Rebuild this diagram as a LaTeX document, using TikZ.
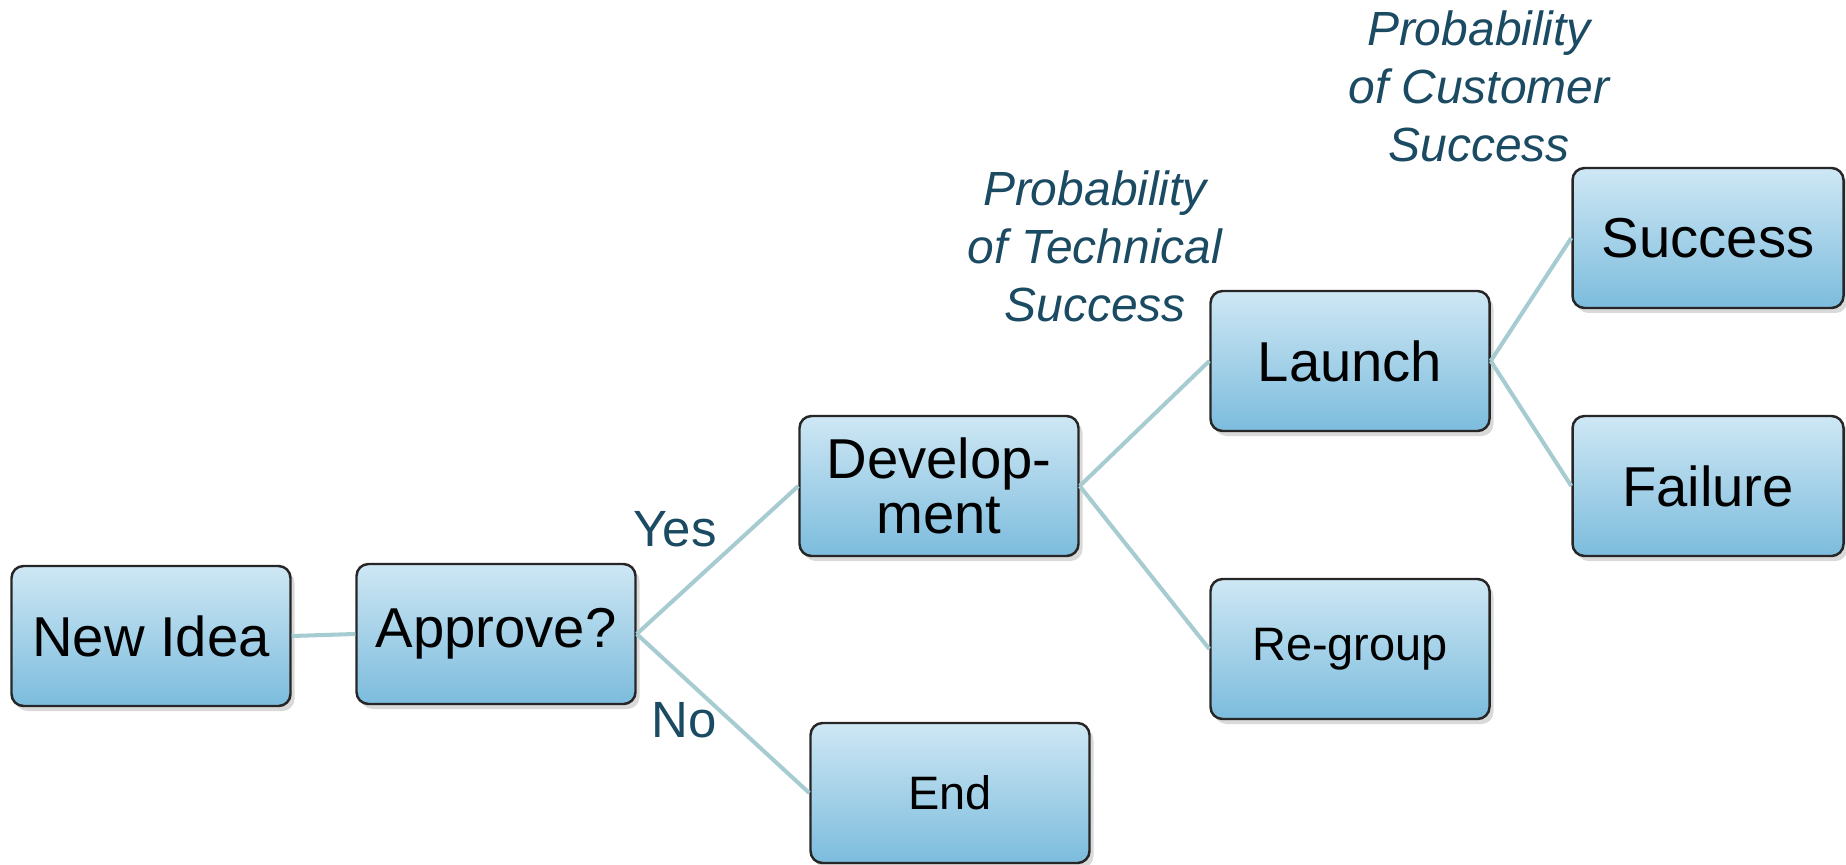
\documentclass[tikz,border=0pt]{standalone}
\usepackage{fontspec}
\setmainfont{Liberation Sans}
\usetikzlibrary{shadows}

\definecolor{boxtop}{RGB}{206,231,244}
\definecolor{boxbot}{RGB}{124,188,221}
\definecolor{branchcol}{RGB}{166,204,210}
\definecolor{labelblue}{RGB}{27,74,99}

\begin{document}
\begin{tikzpicture}[
  stage/.style={rectangle, rounded corners=0.24cm, draw=black!85, line width=1.4pt,
                top color=boxtop, bottom color=boxbot, minimum width=5.58cm,
                minimum height=2.8cm, inner sep=0pt, align=center,
                font=\fontsize{32}{31}\selectfont,
                drop shadow={shadow xshift=0.08cm, shadow yshift=-0.1cm, opacity=0.3}},
  small/.style={font=\fontsize{26.7}{30}\selectfont},
  branch/.style={draw=branchcol, line width=2.3pt},
  answer/.style={text=labelblue, font=\fontsize{29}{33}\selectfont},
  prob/.style={text=labelblue, align=center, font=\itshape\fontsize{27.3}{33}\selectfont},
]
\useasboundingbox (0,0) rectangle (36.92,17.28);

% --- Decision boxes
\node[stage] (newidea) at (3.02, 4.56) {New Idea};
\node[stage] (approve) at (9.92, 4.60) {Approve?};
\node[stage] (dev) at (18.78, 7.56) {Develop-\\ment};
\node[stage, small] (theend) at (19.00, 1.42) {End};
\node[stage] (launch) at (27.00, 10.06) {Launch};
\node[stage, small] (regroup) at (27.00, 4.30) {Re-group};
\node[stage, minimum width=5.42cm] (success) at (34.16, 12.52) {Success};
\node[stage, minimum width=5.42cm] (failure) at (34.16, 7.56) {Failure};

% --- Branches
\draw[branch] (newidea.east) -- (approve.west);
\draw[branch] (approve.east) -- (dev.west);
\draw[branch] (approve.east) -- (theend.west);
\draw[branch] (dev.east) -- (launch.west);
\draw[branch] (dev.east) -- (regroup.west);
\draw[branch] (launch.east) -- (success.west);
\draw[branch] (launch.east) -- (failure.west);

% --- Labels
\node[answer] (yes) at (13.50, 6.70) {Yes};
\node[answer] (no) at (13.68, 2.88) {No};
\node[prob] (techprob) at (21.90, 12.36) {Probability\\of Technical\\Success};
\node[prob] (custprob) at (29.58, 15.56) {Probability\\of Customer\\Success};

\end{tikzpicture}
\end{document}
